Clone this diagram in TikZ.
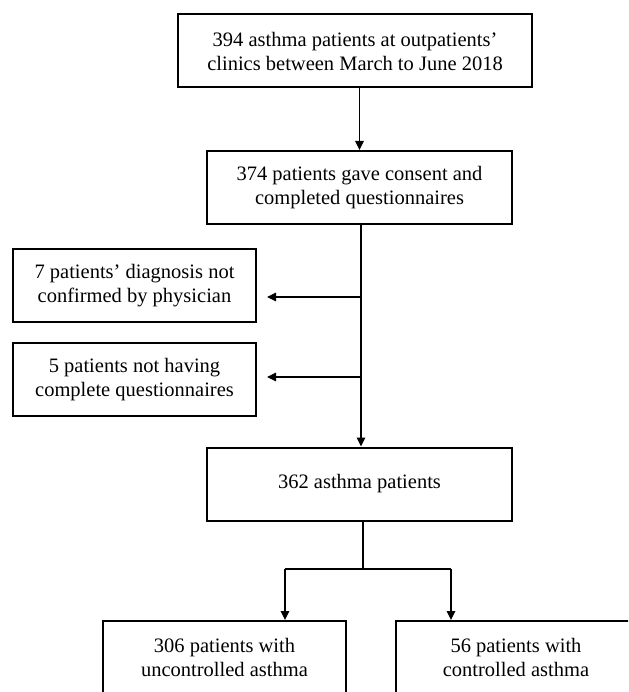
\documentclass[tikz,border=0pt]{standalone}
\usepackage{fontspec}
\setmainfont{Liberation Serif}
\usetikzlibrary{arrows.meta}

\begin{document}
\begin{tikzpicture}[x=1pt, y=-1pt,
        boks/.style={draw, line width=2pt, align=center, inner sep=0pt, minimum height=73pt,
            font=\fontsize{20.5}{24}\selectfont},
        pil/.style={line width=1.2pt, -{Triangle[length=9pt, width=8.5pt]}}]
        \useasboundingbox (0,0) rectangle (628,692);
        \clip (0,0) rectangle (628,692);

        % Bokser
        \node[boks, minimum width=354pt] (a) at (355,51) {394 asthma patients at outpatients'\\clinics between March to June 2018};
        \node[boks, minimum width=305pt] (b) at (359.5,187.5) {374 patients gave consent and\\completed questionnaires};
        \node[boks, minimum width=243pt] (c) at (134.5,285.5) {7 patients' diagnosis not\\confirmed by physician};
        \node[boks, minimum width=243pt] (d) at (134.5,379.5) {5 patients not having\\complete questionnaires};
        \node[boks, minimum width=305pt] (e) at (359.5,484) {362 asthma patients};
        \node[boks, minimum width=243pt] (f) at (224.5,657.5) {306 patients with\\uncontrolled asthma};
        \node[boks, minimum width=240pt] (g) at (516,657.5) {56 patients with\\controlled asthma};

        % Piler
        \coordinate (k1) at (361,297);
        \coordinate (k2) at (361,377);
        \coordinate (k3) at (363,569);
        \coordinate (v) at (285,569);
        \coordinate (h) at (451,569);
        \draw[pil]  (a.south -| b.north) to (b.north);
        \draw[pil]  (b.south -| k1) to (k1 |- e.north);
        \draw[pil, shorten >=10pt]  (k1) to (k1 -| c.east);
        \draw[pil, shorten >=10pt]  (k2) to (k2 -| d.east);
        \draw[line width=1.2pt]  (e.south -| k3) to (k3);
        \draw[line width=1.2pt]  (v) to (h);
        \draw[pil]  (v) to (v |- f.north);
        \draw[pil]  (h) to (h |- g.north);
    \end{tikzpicture}
\end{document}
